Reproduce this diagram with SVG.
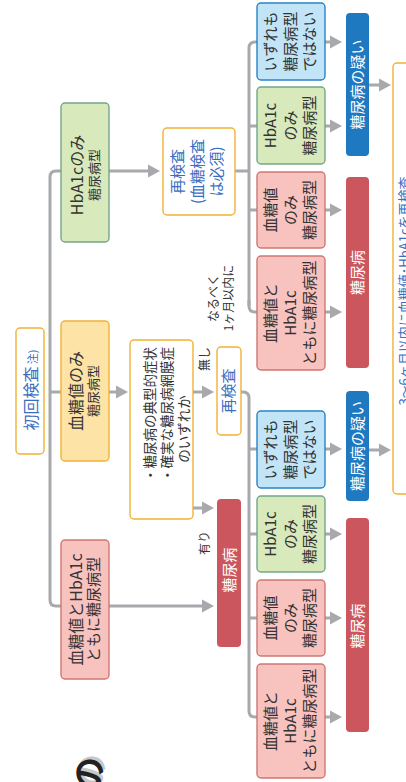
<svg xmlns="http://www.w3.org/2000/svg" width="406" height="782" viewBox="0 0 406 782">
<defs>
<style>
text{font-family:"Noto Sans CJK JP","Noto Sans",sans-serif;fill:#333;text-anchor:middle}
.ln{fill:none;stroke:#a7a9ac;stroke-width:3}
.arr{marker-end:url(#ah)}
.or{fill:#fff;stroke:#f1b234;stroke-width:1.4}
.ye{fill:#fde3a6;stroke:#f1b234;stroke-width:1.4}
.pk{fill:#f8c2bf;stroke:#cf7873;stroke-width:1.4}
.gr{fill:#d8e9bc;stroke:#72a68b;stroke-width:1.4}
.lb{fill:#c1e5f7;stroke:#2784c7;stroke-width:1.4}
.rd{fill:#cb565d}
.db{fill:#1f79c0}
.bt{fill:#3b6dbf}
.wt{fill:#fff}
.f16{font-size:16px}.f15{font-size:15px}.f13{font-size:13px}.f12{font-size:12px}
</style>
<marker id="ah" viewBox="0 -7 12 14" refX="0" refY="0" markerWidth="12" markerHeight="14" markerUnits="userSpaceOnUse" orient="auto">
<path d="M0,-6.5 L12,0 L0,6.5 z" fill="#a7a9ac"/>
</marker>
</defs>

<g id="connectors">
<path class="ln arr" d="M50,177 Q50,171 56,171 H148"/>
<path class="ln arr" d="M50,177 V600 Q50,606 56,606 H202"/>
<path class="ln arr" d="M50,392 H116"/>
<path class="ln arr" d="M193,392 H202"/>
<path class="ln arr" d="M193,508 H202"/>
<path class="ln" d="M235,171 H249"/>
<path class="ln arr" d="M249,306 V48 Q249,42 255,42 H330"/>
<path class="ln arr" d="M249,126 H330"/>
<path class="ln arr" d="M249,210 H330"/>
<path class="ln arr" d="M249,300 V306 Q249,312 255,312 H330"/>
<path class="ln arr" d="M241,392 H243 Q249,392 249,398 V711 Q249,717 255,717 H330"/>
<path class="ln arr" d="M249,449 H330"/>
<path class="ln arr" d="M249,534 H330"/>
<path class="ln arr" d="M249,618 H330"/>
<path class="ln arr" d="M369,85 H379"/>
<path class="ln arr" d="M369,450 H379"/>
</g>

<g id="title-frag">
<text transform="translate(103,787) rotate(-90)" style="font-size:33px;font-weight:700;text-anchor:start;fill:#c8c8c8">の</text>
<text transform="translate(101,790) rotate(-90)" style="font-size:33px;font-weight:700;text-anchor:start;fill:#222">の</text>
</g>

<g id="n-first">
<rect class="or" x="16" y="328" width="28" height="126" rx="4"/>
<text class="bt f16" transform="translate(0,390) rotate(-90)"><tspan x="0" y="37">初回検査<tspan style="font-size:11px"> 注)</tspan></tspan></text>
</g>

<g id="n-hba1c-only">
<rect class="gr" x="61" y="103" width="48" height="139" rx="4"/>
<text transform="translate(0,175) rotate(-90)"><tspan class="f16" x="0" y="82.5">HbA1cのみ</tspan><tspan class="f13" x="0" y="98.5">糖尿病型</tspan></text>
</g>

<g id="n-bg-only">
<rect class="ye" x="61" y="321" width="48" height="140" rx="4"/>
<text transform="translate(0,391) rotate(-90)"><tspan class="f16" x="0" y="81.5">血糖値のみ</tspan><tspan class="f13" x="0" y="98">糖尿病型</tspan></text>
</g>

<g id="n-both">
<rect class="pk" x="61" y="540" width="48" height="139" rx="4"/>
<text transform="translate(0,609.5) rotate(-90)"><tspan class="f16" x="0" y="81.5">血糖値とHbA1c</tspan><tspan class="f15" x="0" y="98.7">ともに糖尿病型</tspan></text>
</g>

<g id="n-symptom">
<rect class="or" x="130" y="340" width="63" height="179" rx="4"/>
<text transform="translate(0,482) rotate(-90)" style="font-size:13.5px;text-anchor:start"><tspan x="0" y="155">・糖尿病の典型的症状</tspan><tspan x="0" y="172">・確実な糖尿病網膜症</tspan></text>
<text transform="translate(0,429) rotate(-90)" style="font-size:13.5px"><tspan x="0" y="189">のいずれか</tspan></text>
</g>

<g id="labels">
<text class="f12" transform="translate(0,359) rotate(-90)"><tspan x="0" y="209">無し</tspan></text>
<text class="f12" transform="translate(0,543) rotate(-90)"><tspan x="0" y="209">有り</tspan></text>
<text class="f12" transform="translate(0,298) rotate(-90)"><tspan x="0" y="217.5">なるべく</tspan><tspan x="0" y="232.5">1ヶ月以内に</tspan></text>
</g>

<g id="n-retest1">
<rect class="or" x="163" y="128" width="72" height="87" rx="4"/>
<text class="bt f15" transform="translate(0,171.5) rotate(-90)"><tspan x="0" y="183">再検査</tspan><tspan x="0" y="202.5">(血糖検査</tspan><tspan x="0" y="222">は必須)</tspan></text>
</g>

<g id="n-retest2">
<rect class="or" x="217" y="347" width="24" height="88" rx="4"/>
<text class="bt f15" transform="translate(0,391) rotate(-90)"><tspan x="0" y="234">再検査</tspan></text>
</g>

<g id="n-dm-mid">
<rect class="rd" x="217" y="499" width="24" height="148" rx="4"/>
<text class="wt f15" transform="translate(0,570) rotate(-90)"><tspan x="0" y="234.7">糖尿病</tspan></text>
</g>

<g id="n-u-none">
<rect class="lb" x="257" y="3" width="68" height="77" rx="4"/>
<text class="f15" transform="translate(0,41.5) rotate(-90)"><tspan x="0" y="276">いずれも</tspan><tspan x="0" y="295.5">糖尿病型</tspan><tspan x="0" y="315">ではない</tspan></text>
</g>
<g id="n-u-hba1c">
<rect class="gr" x="257" y="87" width="68" height="77" rx="4"/>
<text class="f15" transform="translate(0,125.5) rotate(-90)"><tspan x="0" y="276">HbA1c</tspan><tspan x="0" y="295.5">のみ</tspan><tspan x="0" y="315">糖尿病型</tspan></text>
</g>
<g id="n-u-bg">
<rect class="pk" x="257" y="172" width="68" height="76" rx="4"/>
<text class="f15" transform="translate(0,210) rotate(-90)"><tspan x="0" y="276">血糖値</tspan><tspan x="0" y="295.5">のみ</tspan><tspan x="0" y="315">糖尿病型</tspan></text>
</g>
<g id="n-u-both">
<rect class="pk" x="257" y="256" width="68" height="114" rx="4"/>
<text class="f15" transform="translate(0,313) rotate(-90)"><tspan x="0" y="276">血糖値と</tspan><tspan x="0" y="295.5">HbA1c</tspan><tspan x="0" y="315">ともに糖尿病型</tspan></text>
</g>

<g id="n-l-none">
<rect class="lb" x="257" y="411" width="68" height="77" rx="4"/>
<text class="f15" transform="translate(0,449.5) rotate(-90)"><tspan x="0" y="276">いずれも</tspan><tspan x="0" y="295.5">糖尿病型</tspan><tspan x="0" y="315">ではない</tspan></text>
</g>
<g id="n-l-hba1c">
<rect class="gr" x="257" y="496" width="68" height="76" rx="4"/>
<text class="f15" transform="translate(0,534) rotate(-90)"><tspan x="0" y="276">HbA1c</tspan><tspan x="0" y="295.5">のみ</tspan><tspan x="0" y="315">糖尿病型</tspan></text>
</g>
<g id="n-l-bg">
<rect class="pk" x="257" y="580" width="68" height="76" rx="4"/>
<text class="f15" transform="translate(0,618) rotate(-90)"><tspan x="0" y="276">血糖値</tspan><tspan x="0" y="295.5">のみ</tspan><tspan x="0" y="315">糖尿病型</tspan></text>
</g>
<g id="n-l-both">
<rect class="pk" x="257" y="664" width="68" height="114" rx="4"/>
<text class="f15" transform="translate(0,721) rotate(-90)"><tspan x="0" y="276">血糖値と</tspan><tspan x="0" y="295.5">HbA1c</tspan><tspan x="0" y="315">ともに糖尿病型</tspan></text>
</g>

<g id="n-u-suspect">
<rect class="db" x="346" y="13" width="23" height="143" rx="4"/>
<text class="wt f15" transform="translate(0,84.5) rotate(-90)"><tspan x="0" y="363">糖尿病の疑い</tspan></text>
</g>
<g id="n-u-dm">
<rect class="rd" x="346" y="177" width="23" height="191" rx="4"/>
<text class="wt f15" transform="translate(0,272.5) rotate(-90)"><tspan x="0" y="363">糖尿病</tspan></text>
</g>
<g id="n-l-suspect">
<rect class="db" x="346" y="391" width="23" height="110" rx="4"/>
<text class="wt f15" transform="translate(0,446) rotate(-90)"><tspan x="0" y="363">糖尿病の疑い</tspan></text>
</g>
<g id="n-l-dm">
<rect class="rd" x="346" y="518" width="23" height="214" rx="4"/>
<text class="wt f15" transform="translate(0,626) rotate(-90)"><tspan x="0" y="363">糖尿病</tspan></text>
</g>

<g id="n-recheck">
<rect class="or" x="393" y="63" width="40" height="431" rx="4"/>
<text class="bt f13" transform="translate(0,291) rotate(-90)"><tspan x="0" y="409">3〜6ヶ月以内に血糖値･HbA1cを再検査</tspan></text>
</g>
</svg>
